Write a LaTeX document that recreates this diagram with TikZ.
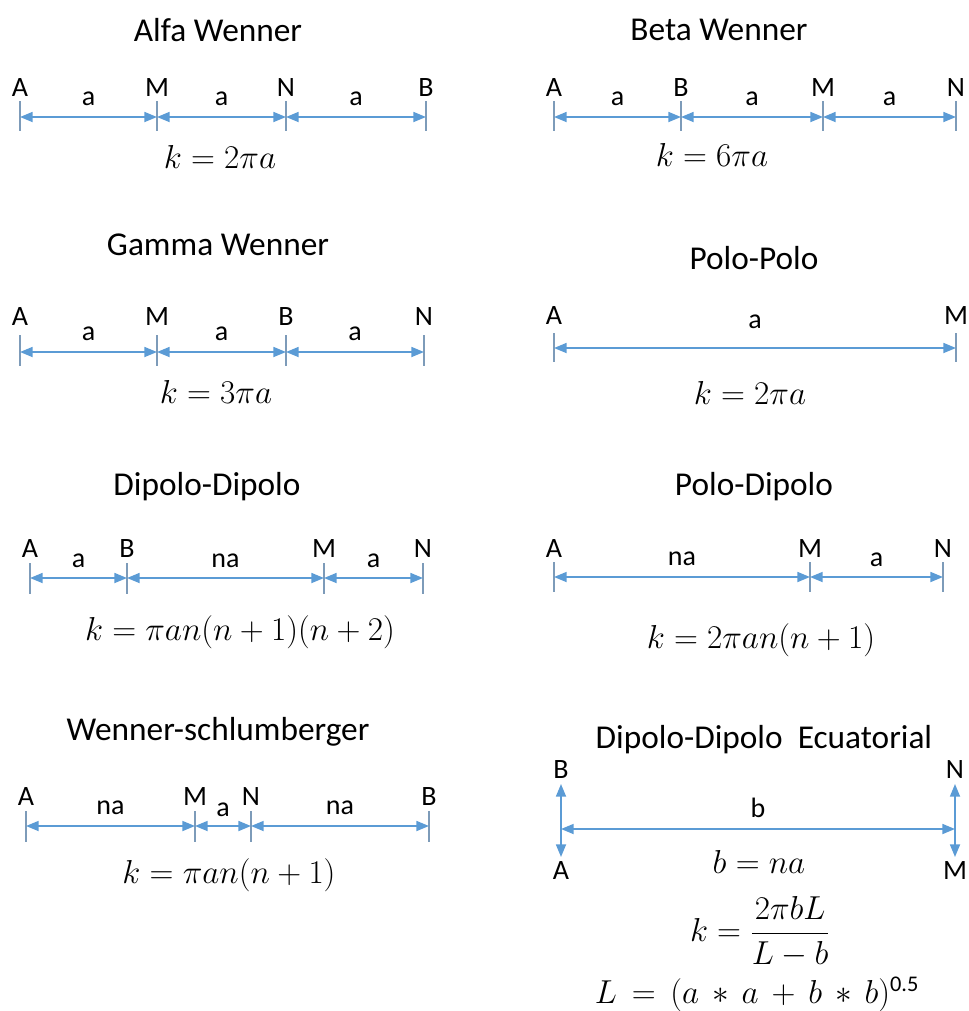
\documentclass[tikz,border=0pt]{standalone}
\usepackage{amsmath}
\usepackage[no-math]{fontspec}
\setmainfont{Carlito}
\usetikzlibrary{arrows.meta}
\definecolor{dimblue}{RGB}{91,155,213}
\definecolor{tickblue}{RGB}{125,155,185}

\tikzset{
  ttl/.style={font=\fontsize{25}{28}\selectfont},
  elec/.style={font=\fontsize{21}{23}\selectfont,inner sep=0pt},
  dist/.style={font=\fontsize{21}{23}\selectfont,inner sep=0pt},
  frm/.style={font=\fontsize{24}{28}\selectfont},
  tick/.style={draw=tickblue,line width=0.8pt},
  dim/.style={draw=dimblue,line width=1.3pt,
    {Triangle[length=9.5pt,width=7.5pt]}-{Triangle[length=9.5pt,width=7.5pt]}}
}

\begin{document}
\begin{tikzpicture}[x=0.75pt,y=-0.75pt]
\useasboundingbox (0,0) rectangle (969,1011);

% --- Alfa Wenner ---
\node[ttl] (t1) at (218,30) {Alfa Wenner};
\foreach \n/\x in {A/20,M/157,N/286,B/426}{
  \node[elec] (p1\n) at (\x,88) {\n};
  \draw[tick] (\x,101) -- (\x,131);
  \coordinate (c1\n) at (\x,117);
}
\draw[dim] (c1A) -- node[dist,above=8pt]{a} (c1M);
\draw[dim] (c1M) -- node[dist,above=8pt]{a} (c1N);
\draw[dim] (c1N) -- node[dist,above=8pt]{a} (c1B);
\node[frm] (k1) at (220,157) {$k = 2\pi a$};

% --- Beta Wenner ---
\node[ttl] (t2) at (719,30) {Beta Wenner};
\foreach \n/\x in {A/554,B/681,M/823,N/956}{
  \node[elec] (p2\n) at (\x,88) {\n};
  \draw[tick] (\x,101) -- (\x,131);
  \coordinate (c2\n) at (\x,117);
}
\draw[dim] (c2A) -- node[dist,above=8pt]{a} (c2B);
\draw[dim] (c2B) -- node[dist,above=8pt]{a} (c2M);
\draw[dim] (c2M) -- node[dist,above=8pt]{a} (c2N);
\node[frm] (k2) at (712,155) {$k = 6\pi a$};

% --- Gamma Wenner ---
\node[ttl] (t3) at (218,245) {Gamma Wenner};
\foreach \n/\x in {A/20,M/157,B/286,N/424}{
  \node[elec] (p3\n) at (\x,317) {\n};
  \draw[tick] (\x,335) -- (\x,366);
  \coordinate (c3\n) at (\x,352);
}
\draw[dim] (c3A) -- node[dist,above=8pt]{a} (c3M);
\draw[dim] (c3M) -- node[dist,above=8pt]{a} (c3B);
\draw[dim] (c3B) -- node[dist,above=8pt]{a} (c3N);
\node[frm] (k3) at (216,392) {$k = 3\pi a$};

% --- Polo-Polo ---
\node[ttl] (t4) at (754,258) {Polo-Polo};
\foreach \n/\x in {A/554,M/956}{
  \node[elec] (p4\n) at (\x,316) {\n};
  \draw[tick] (\x,333) -- (\x,362);
  \coordinate (c4\n) at (\x,348);
}
\draw[dim] (c4A) -- node[dist,above=14pt]{a} (c4M);
\node[frm] (k4) at (750,393) {$k = 2\pi a$};

% --- Dipolo-Dipolo ---
\node[ttl] (t5) at (207,487) {Dipolo-Dipolo};
\foreach \n/\x in {A/30,B/127,M/324,N/423}{
  \node[elec] (p5\n) at (\x,549) {\n};
  \draw[tick] (\x,563) -- (\x,594);
  \coordinate (c5\n) at (\x,578);
}
\draw[dim] (c5A) -- node[dist,above=7pt]{a} (c5B);
\draw[dim] (c5B) -- node[dist,above=7pt]{na} (c5M);
\draw[dim] (c5M) -- node[dist,above=7pt]{a} (c5N);
\node[frm] (k5) at (240,632) {$k = \pi a n(n+1)(n+2)$};

% --- Polo-Dipolo ---
\node[ttl] (t6) at (754,487) {Polo-Dipolo};
\foreach \n/\x in {A/554,M/810,N/943}{
  \node[elec] (p6\n) at (\x,549) {\n};
  \draw[tick] (\x,562) -- (\x,592);
  \coordinate (c6\n) at (\x,577);
}
\draw[dim] (c6A) -- node[dist,above=8pt]{na} (c6M);
\draw[dim] (c6M) -- node[dist,above=7pt]{a} (c6N);
\node[frm] (k6) at (761,640) {$k = 2\pi a n(n+1)$};

% --- Wenner-schlumberger ---
\node[ttl] (t7) at (218,732) {Wenner-schlumberger};
\foreach \n/\x in {A/26,M/195,N/251,B/429}{
  \node[elec] (p7\n) at (\x,797) {\n};
  \draw[tick] (\x,811) -- (\x,842);
  \coordinate (c7\n) at (\x,826);
}
\draw[dim] (c7A) -- node[dist,above=8pt]{na} (c7M);
\draw[dim] (c7M) -- node[dist,above=6pt]{a} (c7N);
\draw[dim] (c7N) -- node[dist,above=8pt]{na} (c7B);
\node[frm] (k7) at (229,875) {$k = \pi a n(n+1)$};

% --- Dipolo-Dipolo Ecuatorial ---
\node[ttl] (t8) at (764,740) {Dipolo-Dipolo\ \ Ecuatorial};
\node[elec] (p8B) at (561,770) {B};
\node[elec] (p8A) at (561,871) {A};
\node[elec] (p8N) at (955,770) {N};
\node[elec] (p8M) at (955,871) {M};
\coordinate (c8B) at (561,784);
\coordinate (c8A) at (561,857);
\coordinate (c8N) at (955,784);
\coordinate (c8M) at (955,857);
\coordinate (c8L) at (561,829);
\coordinate (c8R) at (955,829);
\draw[dim] (c8A) -- (c8B);
\draw[dim] (c8M) -- (c8N);
\draw[dim] (c8L) -- node[dist,above=8pt]{b} (c8R);
\node[frm] (k8a) at (759,862) {$b = na$};
\node[frm,font=\fontsize{26}{30}\selectfont] (k8b) at (760,932)
  {$k = \dfrac{2\pi bL}{L-b}$};
\node[frm] (k8c) at (757,994)
  {$\medmuskip=7mu\thickmuskip=8mu L = (a * a + b * b)^{\text{0.5}}$};

\end{tikzpicture}
\end{document}
